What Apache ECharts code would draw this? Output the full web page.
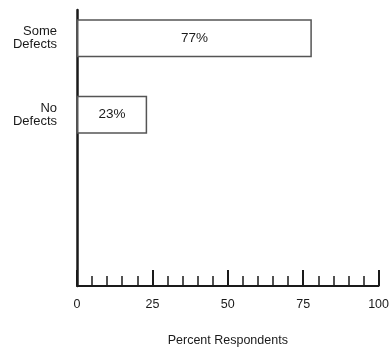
<!DOCTYPE html>
<html><head><meta charset="utf-8">
<script src="https://cdn.jsdelivr.net/npm/echarts@6/dist/echarts.min.js"></script>
<style>html,body{margin:0;padding:0;background:#fff}#c{width:392px;height:352px}</style>
</head><body><div id="c"></div>
<script>
var categories = ['Some\nDefects', 'No\nDefects'];
var values = [77, 23];
var xTicks = [0, 25, 50, 75, 100];
var axisName = 'Percent Respondents';

var font = '"Liberation Sans", Arial, sans-serif';
var ink = '#1a1a1a';
var chart = echarts.init(document.getElementById('c'));
chart.setOption({
  animation: false,
  grid: [
    {left: 77, right: 10, top: -3, height: 156},
    {left: 77, right: 10, top: 10, bottom: 60}
  ],
  xAxis: [
    {gridIndex: 0, type: 'value', min: xTicks[0], max: xTicks[xTicks.length - 1], show: false},
    {gridIndex: 1, type: 'value', min: xTicks[0], max: xTicks[xTicks.length - 1], interval: xTicks[1] - xTicks[0],
     axisLine: {show: true, lineStyle: {color: ink, width: 2}},
     axisTick: {show: true, inside: true, length: 16, lineStyle: {color: ink, width: 2}},
     minorTick: {show: true, splitNumber: 5, length: 10, lineStyle: {color: ink, width: 1.5}},
     splitLine: {show: false},
     axisLabel: {margin: 12, color: ink, fontFamily: font, fontSize: 12.5},
     name: axisName, nameLocation: 'middle', nameGap: 48,
     nameTextStyle: {color: ink, fontFamily: font, fontSize: 12.5}}
  ],
  yAxis: [
    {gridIndex: 0, type: 'category', inverse: true, data: categories,
     axisLine: {show: false}, axisTick: {show: false},
     axisLabel: {margin: 20, color: ink, fontFamily: font, fontSize: 13, lineHeight: 13, align: 'right'}},
    {gridIndex: 1, type: 'value', min: 0, max: 1,
     axisLine: {show: true, lineStyle: {color: ink, width: 2.5}},
     axisTick: {show: false}, axisLabel: {show: false}, splitLine: {show: false}}
  ],
  series: [{
    type: 'bar', xAxisIndex: 0, yAxisIndex: 0, data: values, barWidth: 38,
    itemStyle: {color: '#fff', borderColor: '#555', borderWidth: 1.5},
    label: {show: true, position: 'inside', formatter: '{c}%', color: ink, fontFamily: font, fontSize: 13.5},
    z: 3
  }]
});
</script></body></html>
